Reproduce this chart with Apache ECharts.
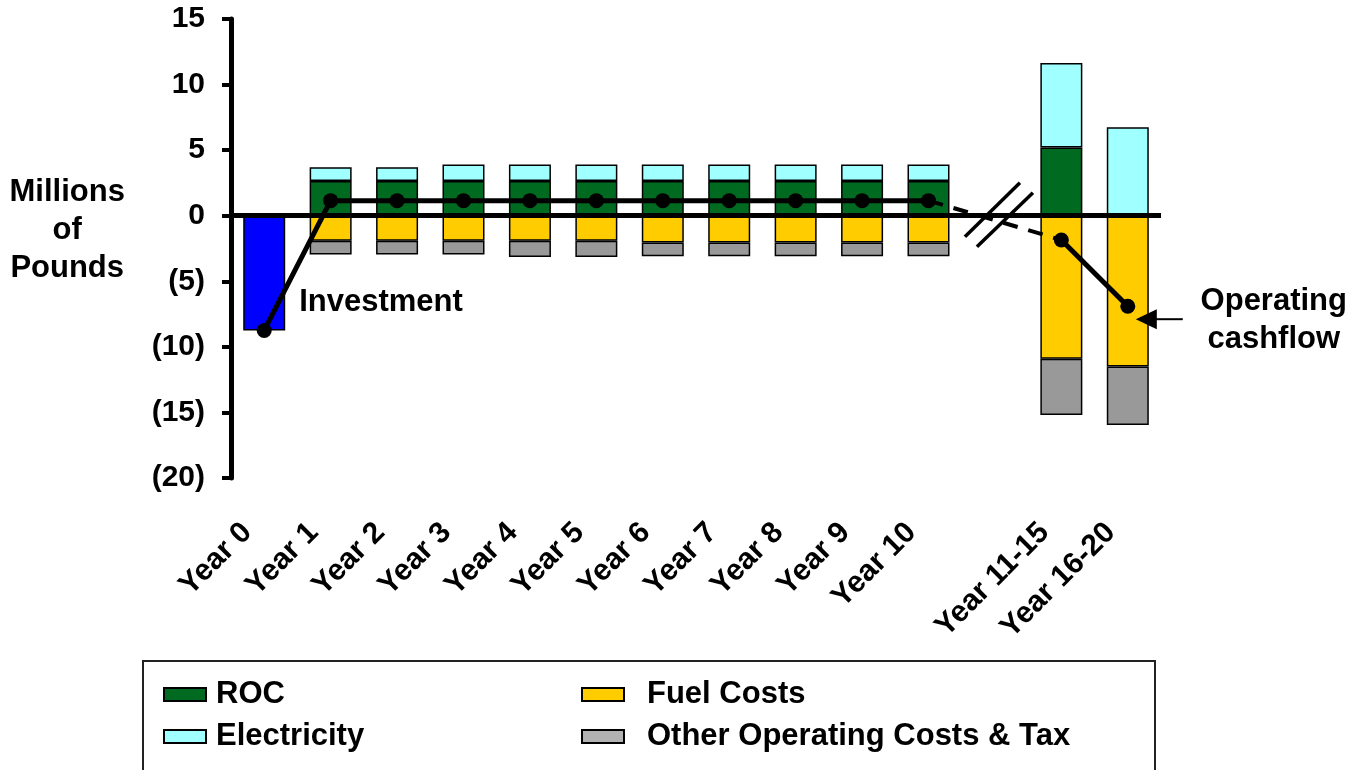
<!DOCTYPE html>
<html>
<head>
<meta charset="utf-8">
<script src="https://cdn.jsdelivr.net/npm/echarts@6/dist/echarts.min.js"></script>
<style>
  html, body { margin: 0; padding: 0; background: #ffffff; }
  #chart { width: 1350px; height: 770px; }
</style>
</head>
<body>
<div id="chart"></div>
<script>
// Categories: an empty slot separates the yearly bars from the 5-year blocks
const categories = ['Year 0', 'Year 1', 'Year 2', 'Year 3', 'Year 4', 'Year 5', 'Year 6',
  'Year 7', 'Year 8', 'Year 9', 'Year 10', '', 'Year 11-15', 'Year 16-20'];

// Values in millions of pounds
const investment  = [-8.75, null, null, null, null, null, null, null, null, null, null, null, null, null];
const roc         = [null, 2.65, 2.65, 2.65, 2.65, 2.65, 2.65, 2.65, 2.65, 2.65, 2.65, null, 5.2, null];
const electricity = [null, 1.05, 1.05, 1.25, 1.25, 1.25, 1.25, 1.25, 1.25, 1.25, 1.25, null, 6.45, 6.75];
const fuelCosts   = [null, -1.9, -1.9, -1.9, -1.9, -1.9, -2.05, -2.05, -2.05, -2.05, -2.05, null, -10.9, -11.5];
const otherCosts  = [null, -1.05, -1.05, -1.05, -1.25, -1.25, -1.05, -1.05, -1.05, -1.05, -1.05, null, -4.3, -4.45];
const cashflow    = [-8.75, 1.15, 1.15, 1.15, 1.15, 1.15, 1.15, 1.15, 1.15, 1.15, 1.15, null, -1.85, -6.9];

// Y axis ticks
const yMin = -20, yMax = 15, yStep = 5;
const yTitle = 'Millions\nof\nPounds';

// Cashflow segment bridging the break (Year 10 -> Year 11-15)
const bridgeIdx = [10, 12];
const cashflowBridge = cashflow.map((v, i) => bridgeIdx.includes(i) ? v : null);

const FONT = '"Liberation Sans", Arial, Helvetica, sans-serif';
const BORDER = { borderColor: '#000', borderWidth: 1.5 };

const chart = echarts.init(document.getElementById('chart'), null, { renderer: 'canvas' });

function barSeries(name, data, color) {
  return {
    name: name, type: 'bar', stack: 'cash', data: data, barWidth: 42,
    itemStyle: Object.assign({ color: color }, BORDER),
    emphasis: { disabled: true }, z: 2
  };
}

const legendText = (pad) => ({
  color: '#000', fontFamily: FONT, fontWeight: 'bold', fontSize: 31,
  rich: { t: { padding: [0, 0, 0, pad], color: '#000', fontFamily: FONT, fontWeight: 'bold', fontSize: 31 } }
});

const option = {
  animation: false,
  backgroundColor: '#fff',
  grid: { left: 231, right: 189, top: 19, bottom: 292, containLabel: false, outerBoundsMode: 'none' },
  xAxis: {
    type: 'category', data: categories, position: 'bottom',
    axisLine: { show: false, onZero: false }, axisTick: { show: false },
    axisLabel: {
      interval: 0, rotate: 45, margin: 33, padding: [0, 24, 0, 0],
      color: '#000', fontFamily: FONT, fontWeight: 'bold', fontSize: 30
    },
    splitLine: { show: false }
  },
  yAxis: {
    type: 'value', min: yMin, max: yMax, interval: yStep,
    axisLine: { show: true, lineStyle: { color: '#000', width: 5 } },
    axisTick: { show: true, length: 9, lineStyle: { color: '#000', width: 4 } },
    axisLabel: {
      margin: 26, color: '#000', fontFamily: FONT, fontWeight: 'bold', fontSize: 30,
      formatter: (v) => v < 0 ? '(' + (-v) + ')' : String(v)
    },
    splitLine: { show: false }
  },
  legend: [
    {
      left: 158, top: 674, orient: 'vertical', itemGap: 11,
      itemWidth: 42, itemHeight: 13, icon: 'rect',
      formatter: '{t|{name}}', textStyle: legendText(5),
      selectedMode: false,
      data: ['ROC', 'Electricity']
    },
    {
      left: 576, top: 674, orient: 'vertical', itemGap: 11,
      itemWidth: 42, itemHeight: 13, icon: 'rect',
      formatter: '{t|{name}}', textStyle: legendText(18),
      selectedMode: false,
      data: ['Fuel Costs', { name: 'Other Operating Costs & Tax', itemStyle: { color: '#B2B2B2' } }]
    }
  ],
  series: [
    barSeries('Investment', investment, '#0000FF'),
    Object.assign(barSeries('ROC', roc, '#006A21'), {
      markLine: {
        silent: true, symbol: 'none', label: { show: false },
        lineStyle: { color: '#000', width: 5, type: 'solid' },
        data: [{ yAxis: 0 }], z: 5
      }
    }),
    barSeries('Electricity', electricity, '#A0FFFF'),
    barSeries('Fuel Costs', fuelCosts, '#FFCC00'),
    barSeries('Other Operating Costs & Tax', otherCosts, '#999999'),
    {
      name: 'Operating cashflow', type: 'line', data: cashflow, connectNulls: false,
      symbol: 'circle', symbolSize: 15, z: 10,
      itemStyle: { color: '#000' }, lineStyle: { color: '#000', width: 5 },
      emphasis: { disabled: true }
    },
    {
      name: 'Operating cashflow bridge', type: 'line', data: cashflowBridge, connectNulls: true,
      symbol: 'none', z: 9,
      lineStyle: { color: '#000', width: 4, type: [15, 11] },
      emphasis: { disabled: true }
    }
  ]
};

chart.setOption(option);

// Axis title, annotations and the axis-break marks, placed from the chart's own coordinates
function decorate() {
  const px = (i, v) => chart.convertToPixel({ gridIndex: 0 }, [i, v]);
  const brk = px(11, 0);
  const p0 = px(0, cashflow[0]);
  const pl = px(13, cashflow[13]);
  const axisX = px(0, 0)[0] - 33;            // y axis line position
  const axisMidY = (px(0, yMax)[1] + px(0, yMin)[1]) / 2;
  const textStyle = { fill: '#000', fontFamily: FONT, fontWeight: 'bold', fontSize: 31 };
  chart.setOption({
    graphic: [
      { type: 'text', z: 20, x: axisX - 164, y: axisMidY - 18,
        style: Object.assign({ text: yTitle, align: 'center', verticalAlign: 'middle', lineHeight: 38 }, textStyle) },
      { type: 'line', z: 20, shape: { x1: brk[0] - 30, y1: brk[1] + 21, x2: brk[0] + 25, y2: brk[1] - 33 },
        style: { stroke: '#000', lineWidth: 3.5 } },
      { type: 'line', z: 20, shape: { x1: brk[0] - 18, y1: brk[1] + 31, x2: brk[0] + 38, y2: brk[1] - 23 },
        style: { stroke: '#000', lineWidth: 3.5 } },
      { type: 'text', z: 20, x: p0[0] + 35, y: p0[1] - 28,
        style: Object.assign({ text: 'Investment', align: 'left', verticalAlign: 'middle' }, textStyle) },
      { type: 'text', z: 20, x: pl[0] + 146, y: pl[1] + 14,
        style: Object.assign({ text: 'Operating\ncashflow', align: 'center', verticalAlign: 'middle', lineHeight: 38 }, textStyle) },
      { type: 'line', z: 20, shape: { x1: pl[0] + 55, y1: pl[1] + 13, x2: pl[0] + 26, y2: pl[1] + 13 },
        style: { stroke: '#000', lineWidth: 2 } },
      { type: 'polygon', z: 20, shape: { points: [[pl[0] + 8, pl[1] + 13], [pl[0] + 29, pl[1] + 3], [pl[0] + 29, pl[1] + 23]] },
        style: { fill: '#000' } },
      { type: 'rect', z: 0, shape: { x: 143, y: 661, width: 1012, height: 130 },
        style: { fill: 'none', stroke: '#222', lineWidth: 2 } }
    ]
  });
}
decorate();
</script>
</body>
</html>
